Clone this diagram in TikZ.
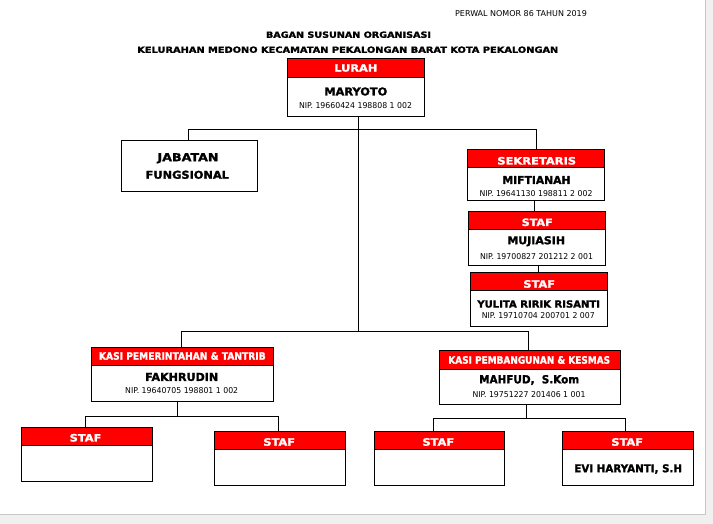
\documentclass[tikz,border=0pt]{standalone}
\usepackage{fontspec}
\setmainfont{DejaVu Sans}[BoldFont={DejaVu Sans Bold},BoldFeatures={FakeBold=1.6}]
\usepackage{graphicx}
\definecolor{pagegrey}{HTML}{F0F0F0}
\definecolor{edgegrey}{HTML}{C8C8C8}
\definecolor{hdrred}{HTML}{FF0000}
\newcommand\fitt[3]{\resizebox{#1pt}{#2pt}{#3}}
\newcommand\obox[6]{%
  \node[hdr, minimum width={(#3-#2)*1pt}, minimum height={(#5-#4)*1pt}] (#1H) at ({(#2+#3)/2},{(#4+#5)/2}) {};
  \node[bdy, minimum width={(#3-#2)*1pt}, minimum height={(#6-#5)*1pt}] (#1B) at ({(#2+#3)/2},{(#5+#6)/2}) {};
}
\tikzset{
  hdr/.style={draw=black, fill=hdrred, line width=1pt, inner sep=0pt, rectangle},
  bdy/.style={draw=black, fill=white, line width=1pt, inner sep=0pt, rectangle},
  txt/.style={inner sep=0pt, text=black},
  wtxt/.style={inner sep=0pt, text=white},
  conn/.style={draw=black, line width=0.9pt},
}
\begin{document}
\begin{tikzpicture}[x=1pt,y=-1pt]
\useasboundingbox (0,0) rectangle (713,524);
\fill[pagegrey] (0,0) rectangle (713,524);
\fill[white] (0,0) rectangle (705,514);
\draw[edgegrey, line width=1pt] (705,0) -- (705,514) -- (0,514);

% titles
\node[txt] (perwal) at (521,13.3) {\fitt{131.7}{6}{PERWAL NOMOR 86 TAHUN 2019}};
\node[txt] (title1) at (348.5,34.7) {\fitt{165}{6.3}{\bfseries BAGAN SUSUNAN ORGANISASI}};
\node[txt] (title2) at (347.8,49.7) {\fitt{421}{6.3}{\bfseries KELURAHAN MEDONO KECAMATAN PEKALONGAN BARAT KOTA PEKALONGAN}};

% junction coordinates
\coordinate (tb1) at (188.7,129.3);
\coordinate (tb2) at (536.7,129.3);
\coordinate (trunk) at (358.7,331.7);
\coordinate (lb1) at (181,331.7);
\coordinate (lb2) at (528.7,331.7);
\coordinate (sc1) at (534,0);
\coordinate (sc2) at (538.3,0);
\coordinate (ll) at (177.5,416.7);
\coordinate (ll1) at (85.7,416.7);
\coordinate (ll2) at (278.7,416.7);
\coordinate (lr) at (526.5,418.3);
\coordinate (lr1) at (433.3,418.3);
\coordinate (lr2) at (625.5,418.3);

% boxes
\obox{lurah}{287}{424}{59}{78}{116.5}
\obox{sek}{467.3}{604.3}{149.3}{168}{200.7}
\obox{stb}{468.3}{605.7}{211.3}{229.3}{265.7}
\obox{stc}{470.7}{607.3}{272.3}{290.3}{326}
\node[bdy, minimum width=136pt, minimum height=51pt] (jab) at (189,166.2) {};
\obox{kp}{91.7}{273.7}{347.3}{365.7}{401}
\obox{kb}{439}{620}{350.7}{369}{404.3}
\obox{sa}{21.7}{152.7}{427.7}{445.7}{481.3}
\obox{sb}{214.7}{345.3}{431.7}{449.7}{485.3}
\obox{sc}{374}{504.3}{431.7}{449.7}{485.3}
\obox{sd}{562.7}{693.3}{431.7}{449.7}{485.3}

% connector lines
\draw[conn] (lurahB.south -| trunk) -- (trunk);
\draw[conn] (jab.north -| tb1) -- (tb1) -- (tb2) -- (sekH.north -| tb2);
\draw[conn] (sekB.south -| sc1) -- (stbH.north -| sc1);
\draw[conn] (stbB.south -| sc2) -- (stcH.north -| sc2);
\draw[conn] (kpH.north -| lb1) -- (lb1) -- (lb2) -- (kbH.north -| lb2);
\draw[conn] (kpB.south -| ll) -- (ll);
\draw[conn] (saH.north -| ll1) -- (ll1) -- (ll2) -- (sbH.north -| ll2);
\draw[conn] (kbB.south -| lr) -- (lr);
\draw[conn] (scH.north -| lr1) -- (lr1) -- (lr2) -- (sdH.north -| lr2);

% LURAH
\node[wtxt] (lurahT) at (355.8,68) {\fitt{43}{7.3}{\bfseries LURAH}};
\node[txt] (lurahN) at (355.8,91.5) {\fitt{63}{8}{\bfseries MARYOTO}};
\node[txt] (lurahP) at (355.5,106) {\fitt{113}{6}{NIP. 19660424 198808 1 002}};

% JABATAN
\node[txt] (jab1) at (188,158.3) {\fitt{61}{8}{\bfseries JABATAN}};
\node[txt] (jab2) at (187.3,174.8) {\fitt{83.3}{8}{\bfseries FUNGSIONAL}};

% SEKRETARIS
\node[wtxt] (sekT) at (536.7,160.8) {\fitt{78.7}{7.5}{\bfseries SEKRETARIS}};
\node[txt] (sekN) at (536.5,180) {\fitt{68}{8}{\bfseries MIFTIANAH}};
\node[txt] (sekP) at (536,194) {\fitt{113}{6}{NIP. 19641130 198811 2 002}};

% STAF Mujiasih
\node[wtxt] (stbT) at (537.2,222.3) {\fitt{31}{7.5}{\bfseries STAF}};
\node[txt] (stbN) at (536.2,241.3) {\fitt{57.7}{8}{\bfseries MUJIASIH}};
\node[txt] (stbP) at (536.5,257) {\fitt{113}{6}{NIP. 19700827 201212 2 001}};

% STAF Yulita
\node[wtxt] (stcT) at (539.2,284) {\fitt{31.7}{7.5}{\bfseries STAF}};
\node[txt] (stcN) at (538.7,304) {\fitt{122.7}{7.3}{\bfseries YULITA RIRIK RISANTI}};
\node[txt] (stcP) at (538.3,315.3) {\fitt{113}{6}{NIP. 19710704 200701 2 007}};

% KASI PEMERINTAHAN
\node[wtxt] (kpT) at (182.3,356) {\fitt{166.7}{7.5}{\bfseries KASI PEMERINTAHAN \& TANTRIB}};
\node[txt] (kpN) at (181.7,377) {\fitt{73}{8}{\bfseries FAKHRUDIN}};
\node[txt] (kpP) at (181.7,391) {\fitt{113}{6}{NIP. 19640705 198801 1 002}};

% KASI PEMBANGUNAN
\node[wtxt] (kbT) at (529.2,360) {\fitt{161.7}{7.5}{\bfseries KASI PEMBANGUNAN \& KESMAS}};
\node[txt] (kbN) at (529.2,380) {\fitt{100}{8.3}{\bfseries MAHFUD,\ \ S.Kom}};
\node[txt] (kbP) at (529,394.5) {\fitt{113}{6}{NIP. 19751227 201406 1 001}};

% bottom STAF
\node[wtxt] (saT) at (85.5,437.8) {\fitt{31.7}{7.5}{\bfseries STAF}};
\node[wtxt] (sbT) at (279.2,442) {\fitt{31.7}{7.5}{\bfseries STAF}};
\node[wtxt] (scT) at (438.3,442) {\fitt{31.7}{7.5}{\bfseries STAF}};
\node[wtxt] (sdT) at (627.2,442) {\fitt{31.7}{7.5}{\bfseries STAF}};
\node[txt] (sdN) at (628.2,469) {\fitt{107.7}{8}{\bfseries EVI HARYANTI, S.H}};
\end{tikzpicture}
\end{document}
